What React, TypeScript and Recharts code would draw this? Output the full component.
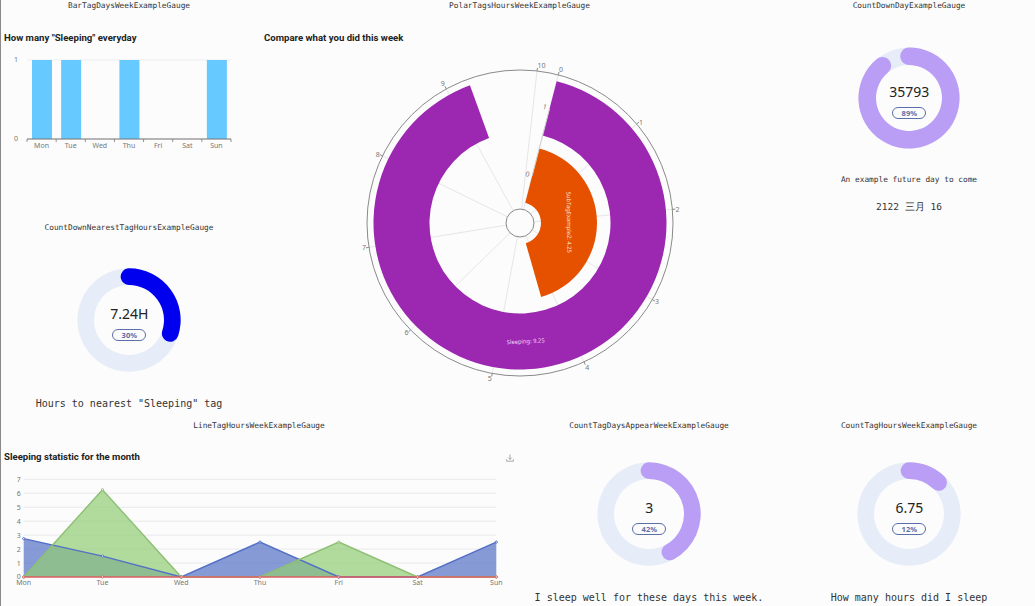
import {
  Area, Bar, BarChart, CartesianGrid, ComposedChart, LabelList, Line, PolarAngleAxis, PolarGrid, PolarRadiusAxis,
  RadialBar, RadialBarChart, XAxis, YAxis,
} from "recharts";

const days = ["Mon", "Tue", "Wed", "Thu", "Fri", "Sat", "Sun"];
const sleepingDays = [1, 1, 0, 1, 0, 0, 1];
const lineBlue = [2.75, 1.5, 0, 2.5, 0, 0, 2.5];
const lineGreen = [0, 6.25, 0, 0, 2.5, 0, 0];
const lineRed = [0, 0, 0, 0, 0, 0, 0];
const lineTicks = [0, 1, 2, 3, 4, 5, 6, 7];

const polarBands = ["0", "1"];
const polarNames = ["SubTagExample2", "Sleeping"];
const polarHours = [4.25, 9.25];
const polarColors = ["#E65100", "#9C27B0"];
const polarTicks = [0, 1, 2, 3, 4, 5, 6, 7, 8, 9, 10];
const polarMax = 10.23;

const barData = days.map((day, i) => ({ day, count: sleepingDays[i] }));
const lineData = days.map((day, i) => ({ day, blue: lineBlue[i], green: lineGreen[i], red: lineRed[i] }));
const polarData = polarBands.map((band, i) => ({
  band,
  name: polarNames[i],
  value: polarHours[i],
  fill: polarColors[i],
}));

const MONO = "'DejaVu Sans Mono', monospace";
const SANS = "'Noto Sans', sans-serif";
const TICK = { fontSize: 7, fill: "#777", fontFamily: SANS };

const Caption = ({ x, y, size, children }: { x: number; y: number; size: number; children: React.ReactNode }) => (
  <div style={{
    position: "absolute", left: x - 150, top: y - 10, width: 300, height: 20, lineHeight: "20px",
    textAlign: "center", fontFamily: MONO, fontSize: size, color: "#333", whiteSpace: "nowrap",
  }}>{children}</div>
);

const Title = ({ x, y, children }: { x: number; y: number; children: React.ReactNode }) => (
  <div style={{
    position: "absolute", left: x, top: y - 10, height: 20, lineHeight: "20px", fontFamily: "Roboto, sans-serif",
    fontSize: 9.6, fontWeight: 700, color: "#222", whiteSpace: "nowrap",
  }}>{children}</div>
);

type GaugeProps = { cx: number; cy: number; percent: number; text: string; color: string; inner?: number; outer?: number };

const Gauge = ({ cx, cy, percent, text, color, inner = 34, outer = 52.5 }: GaugeProps) => (
  <div style={{ position: "absolute", left: cx - 70, top: cy - 70, width: 140, height: 140 }}>
    <RadialBarChart
      width={140}
      height={140}
      cx={70}
      cy={70}
      innerRadius={inner}
      outerRadius={outer}
      barSize={outer - inner}
      startAngle={90}
      endAngle={-270}
      margin={{ top: 0, right: 0, bottom: 0, left: 0 }}
      data={[{ name: text, value: percent }]}
    >
      <PolarAngleAxis type="number" domain={[0, 100]} tick={false} axisLine={false} />
      <RadialBar
        dataKey="value"
        fill={color}
        background={{ fill: "#E6ECF8" }}
        cornerRadius={(outer - inner) / 2}
        cornerIsExternal
        isAnimationActive={false}
      />
    </RadialBarChart>
    <div style={{
      position: "absolute", left: 0, width: 140, top: 54, height: 20, lineHeight: "20px", textAlign: "center",
      fontFamily: SANS, fontSize: 14, color: "#222",
    }}>{text}</div>
    <div style={{
      position: "absolute", left: 53, top: 79, width: 32, height: 10, lineHeight: "10px", textAlign: "center",
      border: "1px solid #5B6FA8", borderRadius: 6, fontFamily: SANS, fontSize: 7.5, fontWeight: 700, color: "#5B6FA8",
    }}>{percent}%</div>
  </div>
);

const RAD = Math.PI / 180;

const polarLabel = (props: any) => {
  const { viewBox, value } = props;
  const { cx, cy, innerRadius, outerRadius, startAngle, endAngle } = viewBox;
  const mid = (startAngle + endAngle) / 2;
  const r = (innerRadius + outerRadius) / 2;
  const x = cx + r * Math.cos(-mid * RAD);
  const y = cy + r * Math.sin(-mid * RAD);
  const clockwise = 90 - mid;
  const rotation = clockwise > 90 ? clockwise - 180 : clockwise;
  const row = polarData.find((d) => d.value === value);
  return (
    <text
      x={x}
      y={y}
      fill={row && row.name === "Sleeping" ? "#F3D9F7" : "#FCE3CC"}
      fontSize={5.8}
      fontFamily={SANS}
      textAnchor="middle"
      dominantBaseline="central"
      transform={`rotate(${rotation} ${x} ${y})`}
    >
      {row ? row.name : ""}: {value}
    </text>
  );
};

// echarts style: the tick marks sit between the categories, not on them
const BarDayTick = (props: any) => {
  const { x, y, payload, index } = props;
  const half = payload.offset || 0;
  return (
    <g>
      <line x1={x - half} x2={x - half} y1={y} y2={y + 3} stroke="#777" strokeWidth={0.8} />
      {index === days.length - 1 && <line x1={x + half} x2={x + half} y1={y} y2={y + 3} stroke="#777" strokeWidth={0.8} />}
      <text x={x} y={y + 9} textAnchor="middle" fontSize={7} fill="#777" fontFamily={SANS}>{payload.value}</text>
    </g>
  );
};

const DownloadIcon = () => (
  <svg width={8} height={8} viewBox="0 0 10 10" style={{ position: "absolute", left: 506, top: 454 }}>
    <path d="M5 0.5V6.5M2.8 4.5L5 6.8L7.2 4.5M0.8 6.5V9H9.2V6.5" fill="none" stroke="#8A8A8A" strokeWidth={0.9} />
  </svg>
);

export default function App() {
  return (
    <div style={{ position: "absolute", left: 0, top: 0, width: 1035, height: 606, overflow: "hidden", background: "#FCFCFC" }}>
      <div style={{ position: "absolute", left: 0, top: 0, width: 1, height: 606, background: "#8A8A8A" }} />

      <Caption x={129} y={6} size={7.8}>BarTagDaysWeekExampleGauge</Caption>
      <Title x={4} y={38}>How many "Sleeping" everyday</Title>
      <div style={{ position: "absolute", left: 0, top: 50 }}>
        <BarChart width={240} height={105} data={barData} margin={{ top: 10, right: 9, bottom: 0, left: 0 }}>
          <CartesianGrid vertical={false} stroke="#EDEDED" />
          <XAxis dataKey="day" height={16} tick={BarDayTick} tickLine={false} tickSize={0} tickMargin={0} interval={0} stroke="#777" />
          <YAxis width={27} domain={[0, 1]} ticks={[0, 1]} tick={TICK} tickLine={false} tickMargin={3} axisLine={false} />
          <Bar dataKey="count" fill="#66C9FF" barSize={20} isAnimationActive={false} />
        </BarChart>
      </div>

      <Caption x={519.5} y={6} size={7.8}>PolarTagsHoursWeekExampleGauge</Caption>
      <Title x={264} y={38}>Compare what you did this week</Title>
      <div style={{ position: "absolute", left: 339.5, top: 43 }}>
        <RadialBarChart
          width={360}
          height={360}
          cx={180}
          cy={180}
          innerRadius={14}
          outerRadius={153}
          startAngle={75.5}
          endAngle={-284.5}
          barSize={56}
          margin={{ top: 0, right: 0, bottom: 0, left: 0 }}
          data={polarData}
        >
          <PolarGrid gridType="circle" polarRadius={[]} stroke="#E6E6E6" />
          <PolarGrid gridType="circle" polarRadius={[14]} radialLines={false} stroke="#8A8A8A" />
          <PolarAngleAxis
            type="number"
            domain={[0, polarMax]}
            ticks={polarTicks}
            tick={TICK}
            tickSize={3}
            axisLineType="circle"
            stroke="#8A8A8A"
          />
          <PolarRadiusAxis
            type="category"
            dataKey="band"
            angle={75.5}
            orientation="left"
            tick={{ ...TICK, dx: -3, dy: 2 }}
            stroke="#D0D0D0"
          />
          <RadialBar dataKey="value" isAnimationActive={false}>
            <LabelList dataKey="value" content={polarLabel} />
          </RadialBar>
        </RadialBarChart>
      </div>

      <Caption x={909} y={6} size={7.8}>CountDownDayExampleGauge</Caption>
      <Gauge cx={909.3} cy={98.3} percent={89} text="35793" color="#BA9DF5" inner={32} outer={51.5} />
      <Caption x={909} y={180} size={7.8}>An example future day to come</Caption>
      <Caption x={909} y={207} size={9.5}>2122 三月 16</Caption>

      <Caption x={129} y={228} size={7.8}>CountDownNearestTagHoursExampleGauge</Caption>
      <Gauge cx={129.3} cy={320} percent={30} text="7.24H" color="#0000EE" />
      <Caption x={129} y={404} size={10}>Hours to nearest "Sleeping" tag</Caption>

      <Caption x={259} y={425.5} size={7.8}>LineTagHoursWeekExampleGauge</Caption>
      <Title x={4} y={457}>Sleeping statistic for the month</Title>
      <DownloadIcon />
      <div style={{ position: "absolute", left: 0, top: 469 }}>
        <ComposedChart width={510} height={125} data={lineData} margin={{ top: 10.3, right: 13.7, bottom: 0, left: 0 }}>
          <CartesianGrid vertical={false} stroke="#E9E9EC" />
          <XAxis dataKey="day" scale="point" height={17} tick={TICK} tickSize={0} tickMargin={3} interval={0} axisLine={false} />
          <YAxis width={23.7} domain={[0, 7]} ticks={lineTicks} interval={0} tick={TICK} tickSize={0} tickMargin={3} axisLine={false} />
          <Area type="linear" dataKey="blue" stroke="none" fill="#5470C6" fillOpacity={0.7} dot={false} isAnimationActive={false} />
          <Area type="linear" dataKey="green" stroke="none" fill="#91CC75" fillOpacity={0.7} dot={false} isAnimationActive={false} />
          <Line type="linear" dataKey="blue" stroke="#5470C6" strokeWidth={1.4}
            dot={{ r: 1.1, fill: "#FFFFFF", stroke: "#5470C6", strokeWidth: 1, fillOpacity: 1 }} isAnimationActive={false} />
          <Line type="linear" dataKey="green" stroke="#8DBF74" strokeWidth={1.4}
            dot={{ r: 1.1, fill: "#FFFFFF", stroke: "#8DBF74", strokeWidth: 1, fillOpacity: 1 }} isAnimationActive={false} />
          <Line type="linear" dataKey="red" stroke="#DC5F5F" strokeWidth={1.4}
            dot={{ r: 1.1, fill: "#FFFFFF", stroke: "#DC5F5F", strokeWidth: 1, fillOpacity: 1 }} isAnimationActive={false} />
        </ComposedChart>
      </div>

      <Caption x={649} y={425.5} size={7.8}>CountTagDaysAppearWeekExampleGauge</Caption>
      <Gauge cx={649.3} cy={514.3} percent={42} text="3" color="#BA9DF5" />
      <Caption x={649} y={598} size={10}>I sleep well for these days this week.</Caption>

      <Caption x={909} y={425.5} size={7.8}>CountTagHoursWeekExampleGauge</Caption>
      <Gauge cx={909.3} cy={514.3} percent={12} text="6.75" color="#BA9DF5" />
      <Caption x={909} y={598} size={10}>How many hours did I sleep</Caption>
    </div>
  );
}
